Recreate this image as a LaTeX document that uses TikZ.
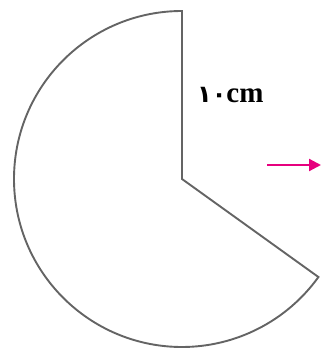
\documentclass[tikz,border=0pt]{standalone}
\usepackage{fontspec}
\setmainfont{Liberation Serif}
\newfontfamily\arabicfont[Script=Arabic]{DejaVu Sans}
\usetikzlibrary{arrows.meta}
\definecolor{edgegray}{HTML}{646464}
\definecolor{arrowpink}{HTML}{E6007E}
\begin{document}
\begin{tikzpicture}[x=1pt,y=1pt,
  sectorline/.style={draw=edgegray,line width=1.9pt,line join=miter},
  pinkarrow/.style={draw=arrowpink,line width=2.2pt,-{Triangle[length=12pt,width=12pt]}},
  lbl/.style={inner sep=0pt,font=\fontsize{29}{31}\selectfont\bfseries}]
\useasboundingbox (0,0) rectangle (322,349);
\coordinate (C) at (182,170);
\coordinate (T) at (182,338);
\draw[sectorline] (C) -- (T) arc[start angle=90,end angle=324.3,radius=168] -- cycle;
\node[lbl,anchor=base west] (L) at (197,246) {{\arabicfont\fontsize{24}{26}\selectfont ١٠}cm};
\coordinate (A1) at (267,184);
\coordinate (A2) at (321,184);
\draw[pinkarrow] (A1) -- (A2);
\end{tikzpicture}
\end{document}
